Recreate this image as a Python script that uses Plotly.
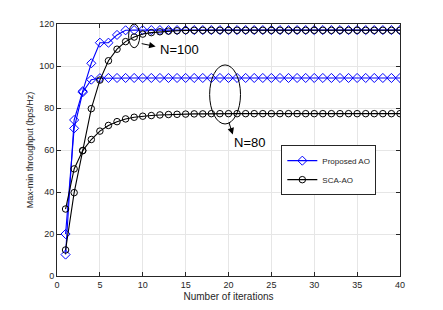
import plotly.graph_objects as go

iterations = list(range(1, 41))

proposed_n100 = [10.2, 74.3, 88.0, 101.3, 111.1, 111.1, 114.8, 117.0, 117.1, 117.1,
                 117.1, 117.1, 117.1, 117.1, 117.1, 117.1, 117.1, 117.1, 117.1, 117.1,
                 117.1, 117.1, 117.1, 117.1, 117.1, 117.1, 117.1, 117.1, 117.1, 117.1,
                 117.1, 117.1, 117.1, 117.1, 117.1, 117.1, 117.1, 117.1, 117.1, 117.1]
proposed_n80 = [20.0, 70.3, 87.5, 93.5, 94.2, 94.3, 94.3, 94.3, 94.3, 94.3,
                94.3, 94.3, 94.3, 94.3, 94.3, 94.3, 94.3, 94.3, 94.3, 94.3,
                94.3, 94.3, 94.3, 94.3, 94.3, 94.3, 94.3, 94.3, 94.3, 94.3,
                94.3, 94.3, 94.3, 94.3, 94.3, 94.3, 94.3, 94.3, 94.3, 94.3]
sca_n100 = [12.4, 39.7, 59.7, 79.7, 93.3, 102.5, 108.0, 111.6, 113.8, 115.2,
            115.9, 116.3, 116.6, 116.8, 116.9, 117.0, 117.0, 117.0, 117.0, 117.0,
            117.0, 117.0, 117.0, 117.0, 117.0, 117.0, 117.0, 117.0, 117.0, 117.0,
            117.0, 117.0, 117.0, 117.0, 117.0, 117.0, 117.0, 117.0, 117.0, 117.0]
sca_n80 = [31.9, 51.0, 59.7, 65.0, 69.0, 71.7, 73.5, 74.8, 75.6, 76.1,
           76.4, 76.7, 76.9, 77.0, 77.1, 77.2, 77.2, 77.3, 77.3, 77.3,
           77.3, 77.3, 77.3, 77.3, 77.3, 77.3, 77.3, 77.3, 77.3, 77.3,
           77.3, 77.3, 77.3, 77.3, 77.3, 77.3, 77.3, 77.3, 77.3, 77.3]

x_ticks = [0, 5, 10, 15, 20, 25, 30, 35, 40]
y_ticks = [0, 20, 40, 60, 80, 100, 120]

BLUE = "rgb(0,0,255)"
BLACK = "rgb(0,0,0)"
FONT = "Liberation Sans, Arial, sans-serif"

fig = go.Figure()

def add(y, color, symbol, size, name, show):
    fig.add_trace(go.Scatter(
        x=iterations, y=y, mode="lines+markers", name=name,
        showlegend=show,
        line=dict(color=color, width=1.1),
        marker=dict(symbol=symbol, size=size, color=color,
                    line=dict(color=color, width=1.0)),
    ))

add(proposed_n100, BLUE, "diamond-open", 7, "Proposed AO", True)
add(proposed_n80, BLUE, "diamond-open", 7, "Proposed AO", False)
add(sca_n100, BLACK, "circle-open", 6.5, "SCA-AO", True)
add(sca_n80, BLACK, "circle-open", 6.5, "SCA-AO", False)

# ellipses
fig.add_shape(type="circle", xref="x", yref="y", x0=8.35, x1=9.65, y0=108.7, y1=120.0,
              line=dict(color="black", width=1))
fig.add_shape(type="circle", xref="x", yref="y", x0=17.8, x1=21.4, y0=72.4, y1=100.5,
              line=dict(color="black", width=1))

# arrows
fig.add_annotation(x=11.5, y=109.3, ax=9.7, ay=110.8, xref="x", yref="y",
                   axref="x", ayref="y", text="", showarrow=True,
                   arrowhead=2, arrowsize=1.3, arrowwidth=1, arrowcolor="black")
fig.add_annotation(x=20.5, y=67.4, ax=20.0, ay=73.8, xref="x", yref="y",
                   axref="x", ayref="y", text="", showarrow=True,
                   arrowhead=2, arrowsize=1.3, arrowwidth=1, arrowcolor="black")
fig.add_annotation(x=11.75, y=108.0, xref="x", yref="y", text="N=100",
                   showarrow=False, xanchor="left", yanchor="middle",
                   font=dict(family=FONT, size=13, color="black"))
fig.add_annotation(x=20.45, y=63.8, xref="x", yref="y", text="N=80",
                   showarrow=False, xanchor="left", yanchor="middle",
                   font=dict(family=FONT, size=13, color="black"))

axis_common = dict(
    showgrid=True, gridcolor="rgb(230,230,230)", gridwidth=1,
    showline=True, linecolor="rgb(38,38,38)", linewidth=1, mirror="ticks",
    ticks="inside", ticklen=4, tickcolor="rgb(38,38,38)",
    tickfont=dict(family=FONT, size=9, color="rgb(38,38,38)"),
    zeroline=False, automargin=False,
)

# page body has an 8px margin, so the figure is sized to fit inside the window
fig.update_layout(
    width=427, height=294,
    margin=dict(l=49, r=35, t=16, b=26),
    paper_bgcolor="white", plot_bgcolor="white",
    font=dict(family=FONT, size=9, color="rgb(38,38,38)"),
    xaxis=dict(range=[0, 40], tickvals=x_ticks,
               title=dict(text="Number of iterations", standoff=4,
                          font=dict(family=FONT, size=10, color="rgb(38,38,38)")),
               **axis_common),
    yaxis=dict(range=[0, 120], tickvals=y_ticks,
               title=dict(text="Max-min throughput (bps/Hz)", standoff=4,
                          font=dict(family=FONT, size=9, color="rgb(38,38,38)")),
               **axis_common),
    legend=dict(x=0.654, y=0.42, xanchor="left", yanchor="middle",
                bgcolor="white", bordercolor="rgb(38,38,38)", borderwidth=1,
                font=dict(family=FONT, size=8, color="rgb(38,38,38)"),
                tracegroupgap=0, itemwidth=30),
)

fig.write_html("out.html")
